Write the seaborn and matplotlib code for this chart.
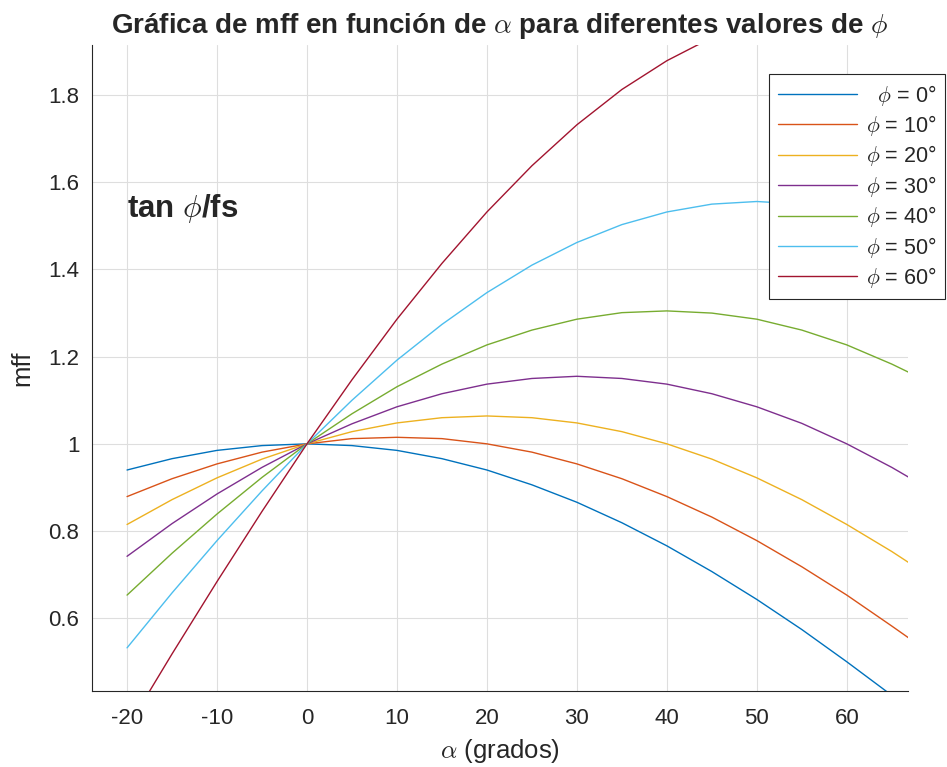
import numpy as np
import pandas as pd
import seaborn as sns
import matplotlib.pyplot as plt

# angle values (degrees) read along the x axis
alpha = [-20, -15, -10, -5, 0, 5, 10, 15, 20, 25, 30, 35, 40, 45, 50, 55, 60, 65, 67]

# mff
mff_0 = [0.940, 0.966, 0.985, 0.996, 1.0, 0.996, 0.985, 0.966, 0.940, 0.906, 0.866, 0.819, 0.766, 0.707, 0.643, 0.574, 0.500, 0.423, 0.391]
mff_10 = [0.879, 0.920, 0.954, 0.981, 1.0, 1.012, 1.015, 1.012, 1.000, 0.981, 0.954, 0.920, 0.879, 0.832, 0.778, 0.718, 0.653, 0.582, 0.553]
mff_20 = [0.815, 0.872, 0.922, 0.965, 1.0, 1.028, 1.048, 1.060, 1.064, 1.060, 1.048, 1.028, 1.000, 0.965, 0.922, 0.872, 0.815, 0.753, 0.726]
mff_30 = [0.742, 0.817, 0.885, 0.946, 1.0, 1.046, 1.085, 1.115, 1.137, 1.150, 1.155, 1.150, 1.137, 1.115, 1.085, 1.047, 1.000, 0.946, 0.922]
mff_40 = [0.653, 0.749, 0.839, 0.923, 1.0, 1.069, 1.131, 1.183, 1.227, 1.261, 1.286, 1.301, 1.305, 1.300, 1.286, 1.261, 1.227, 1.183, 1.163]
mff_50 = [0.532, 0.658, 0.778, 0.892, 1.0, 1.100, 1.192, 1.274, 1.347, 1.410, 1.462, 1.503, 1.532, 1.550, 1.556, 1.550, 1.532, 1.503, 1.488]
mff_60 = [0.347, 0.518, 0.684, 0.845, 1.0, 1.147, 1.286, 1.414, 1.532, 1.638, 1.732, 1.813, 1.879, 1.932, 1.970, 1.992, 2.000, 1.992, 1.985]

phi_values = [0, 10, 20, 30, 40, 50, 60]
series = [mff_0, mff_10, mff_20, mff_30, mff_40, mff_50, mff_60]
colors = ["#0072BD", "#D95319", "#EDB120", "#7E2F8E", "#77AC30", "#4DBEEE", "#A2142F"]

rows = []
for phi, vals in zip(phi_values, series):
    for a, m in zip(alpha, vals):
        rows.append({"alpha": a, "mff": m, "phi": phi})
df = pd.DataFrame(rows)

sns.set_style("white")
plt.rcParams["font.family"] = ["Liberation Sans", "DejaVu Sans"]
plt.rcParams["mathtext.fontset"] = "cm"
plt.rcParams["axes.unicode_minus"] = False

fig = plt.figure(figsize=(9.47, 7.67), dpi=100)
ax = fig.add_axes([0.0971, 0.0991, 0.9588 - 0.0971, 0.9413 - 0.0991])

sns.lineplot(data=df, x="alpha", y="mff", hue="phi", palette=colors,
             linewidth=1.0, ax=ax, legend=False)

ax.set_xlim(-23.9, 66.8)
ax.set_ylim(0.433, 1.915)
ax.set_xticks(range(-20, 61, 10))
ax.set_yticks([0.6, 0.8, 1.0, 1.2, 1.4, 1.6, 1.8])
ax.set_yticklabels(["0.6", "0.8", "1", "1.2", "1.4", "1.6", "1.8"])
ax.grid(True, color="#dedede", linewidth=0.8)
ax.tick_params(direction="in", length=5, width=0.8, colors="#262626",
               labelsize=16)
ax.tick_params(axis="x", pad=12)
ax.tick_params(axis="y", pad=9)
for side in ["top", "right"]:
    ax.spines[side].set_visible(False)
for side in ["left", "bottom"]:
    ax.spines[side].set_color("#262626")
    ax.spines[side].set_linewidth(0.8)

ax.set_xlabel(r"$\alpha$ (grados)", fontsize=18.5, color="#262626", labelpad=6)
ax.set_ylabel("mff", fontsize=18.5, color="#262626", labelpad=10)
ax.set_title(r"Gráfica de mff en función de $\alpha$ para diferentes valores de $\phi$",
             fontsize=20, fontweight="bold", pad=9)

ax.text(-20, 1.54, r"tan $\phi$/fs", fontsize=22.5, fontweight="bold",
        ha="left", va="center")

handles = [plt.Line2D([], [], color=c, linewidth=1.0) for c in colors]
labels = [("\u2007" if p < 10 else "") + r"$\phi$ = " + f"{p}°" for p in phi_values]
leg = fig.legend(handles, labels, loc="upper right",
                 bbox_to_anchor=(0.998, 0.9035), bbox_transform=fig.transFigure,
                 fontsize=15.5, frameon=True, fancybox=False, framealpha=1,
                 edgecolor="#262626", handlelength=3.7, handletextpad=0.4,
                 labelspacing=0.25, borderpad=0.4, borderaxespad=0)
leg.get_frame().set_linewidth(0.8)

plt.savefig("out.png", dpi=100)
